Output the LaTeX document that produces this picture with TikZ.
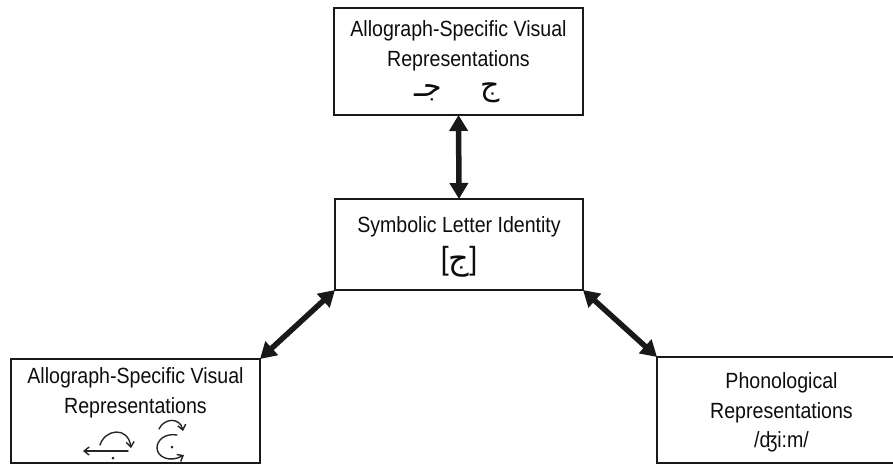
\documentclass[tikz,border=0pt]{standalone}
\usepackage{fontspec}
\setmainfont[FakeStretch=0.89]{Liberation Sans}
\newfontfamily\arabicfont[Script=Arabic]{DejaVu Sans}
\TeXXeTstate=1
\usetikzlibrary{arrows.meta,calc}

\tikzset{
  framebox/.style={draw=black!90, line width=1.6pt, inner sep=0pt, outer sep=0pt},
  label/.style={anchor=base, inner sep=0pt, text=black!95,
                font=\fontsize{22}{30}\selectfont},
  glyph/.style={inner sep=0pt, text=black!95, font=\arabicfont\fontsize{30}{34}\selectfont},
  link/.style={line width=5.5pt, black!90,
               {Triangle[width=18pt,length=16pt]}-{Triangle[width=18pt,length=16pt]}},
  stroke/.style={line width=1.4pt, black!85, line cap=round, -{Straight Barb[length=5pt,width=8pt]}},
  inkdot/.style={fill=black!85}
}

\begin{document}
\begin{tikzpicture}[x=1pt,y=-1pt]
  \useasboundingbox (0,0) rectangle (893,465);
  \clip (0,0) rectangle (893,465);

  % boxes
  \node[framebox, minimum width=249pt, minimum height=107pt] (vistop) at (458.5,61.5) {};
  \node[framebox, minimum width=248pt, minimum height=91pt]  (letter) at (459,244.5) {};
  \node[framebox, minimum width=249pt, minimum height=104pt] (visleft) at (135.5,411) {};
  \node[framebox, minimum width=249pt, minimum height=106pt] (phon) at (781.5,410) {};

  % upper box texts
  \node[label] (vt1) at (458.5,37) {Allograph-Specific Visual};
  \node[label] (vt2) at (458.5,67) {Representations};
  \node[glyph] (vtg1) at (428,93) {\beginR جـ\endR};
  \node[glyph] (vtg2) at (490,93) {\beginR ج\endR};

  % central box texts
  \node[label] (lt1) at (459,232) {Symbolic Letter Identity};
  \node[inner sep=0pt, text=black!95, font=\fontsize{32}{36}\selectfont] (ltg) at (459,262)
    {[\raisebox{0pt}{\arabicfont\fontsize{32}{36}\selectfont\beginR ج\endR}]};

  % left box texts
  \node[label] (lb1) at (135.5,383) {Allograph-Specific Visual};
  \node[label] (lb2) at (135.5,413) {Representations};

  % right box texts
  \node[label] (rb1) at (781.5,388) {Phonological};
  \node[label] (rb2) at (781.5,418) {Representations};
  \node[label] (rb3) at (781.5,447) {/ʤi:m/};

  % stroke order sketches
  \coordinate (s1a) at (128,451);
  \coordinate (s1b) at (83,451);
  \draw[stroke] (s1a) -- (s1b);
  \coordinate (s2a) at (100,445);
  \coordinate (s2b) at (131,448);
  \draw[stroke] (s2a) .. controls (105,429) and (128,426) .. (s2b);
  \fill[inkdot] (113,458) circle (1.5pt);

  \coordinate (s3a) at (159,429);
  \coordinate (s3b) at (183,431);
  \draw[stroke] (s3a) .. controls (164,418) and (180,417) .. (s3b);
  \coordinate (s4a) at (177,435);
  \coordinate (s4b) at (184,455);
  \draw[stroke] (s4a) .. controls (165,433) and (157,440) .. (157,448)
                .. controls (157,457) and (170,463) .. (s4b);
  \fill[inkdot] (172,447) circle (1.5pt);

  % connectors
  \draw[link] (vistop.south) -- (letter.north);
  \draw[link] (letter.south west) -- (visleft.north east);
  \draw[link] (letter.south east) -- (phon.north west);
\end{tikzpicture}
\end{document}
